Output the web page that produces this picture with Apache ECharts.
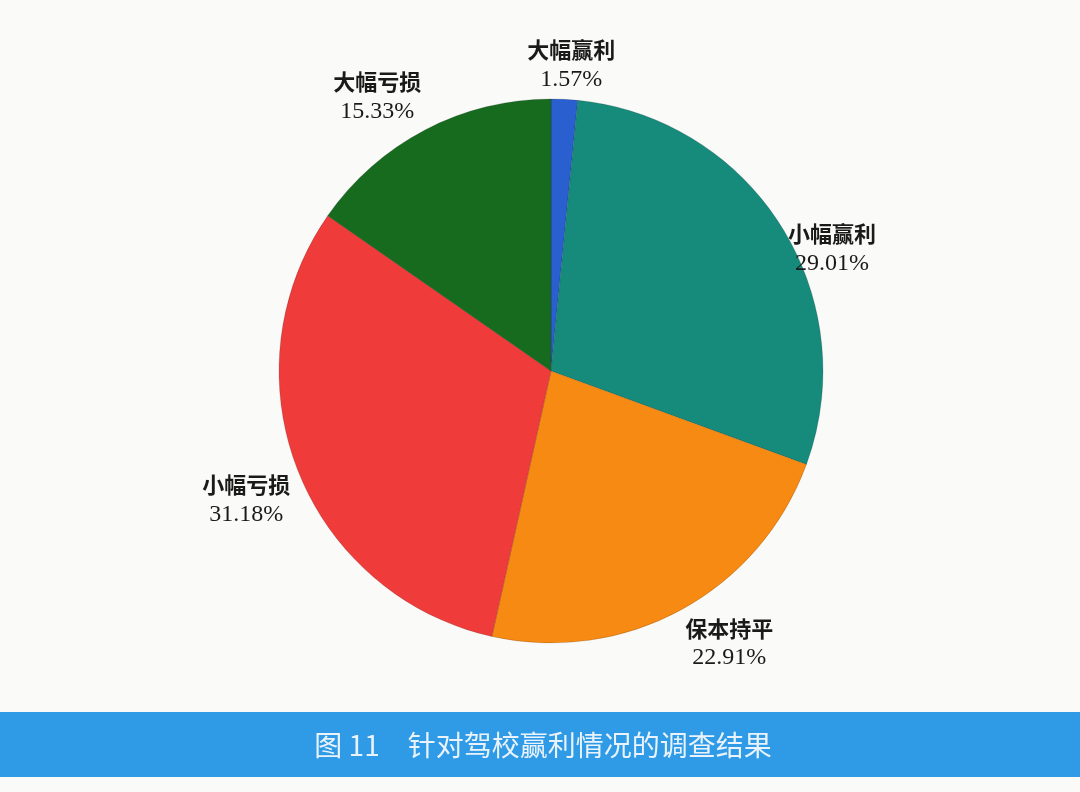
<!DOCTYPE html>
<html>
<head>
<meta charset="utf-8">
<script src="https://cdn.jsdelivr.net/npm/echarts@6/dist/echarts.min.js"></script>
<style>
  html, body { margin: 0; padding: 0; background: #fafaf8; }
  #main { width: 1080px; height: 792px; }
</style>
</head>
<body>
<div id="main"></div>
<script>
var categories = ['大幅赢利', '小幅赢利', '保本持平', '小幅亏损', '大幅亏损'];
var values = [1.57, 29.01, 22.91, 31.18, 15.33];
var colors = ['#2a5fcf', '#168a7b', '#f78a12', '#f03b3b', '#176b1f'];
var caption = '图 11\u3000针对驾校赢利情况的调查结果';

var center = [551, 371];
var radius = 272;
var labelGap = 8; // 标签离饼边缘的距离

var total = values.reduce(function (a, b) { return a + b; }, 0);

function clamp(v) { return Math.max(-1, Math.min(1, v)); }

var myChart = echarts.init(document.getElementById('main'));

var option = {
  backgroundColor: '#fafaf8',
  graphic: [
    {
      type: 'rect',
      shape: { x: 0, y: 712, width: 1080, height: 65 },
      style: { fill: '#2f9be6' }
    },
    {
      type: 'text',
      x: 543, y: 745,
      style: {
        text: caption,
        fill: '#eaf3fb',
        font: '28px "Noto Sans CJK SC"',
        align: 'center',
        verticalAlign: 'middle'
      }
    }
  ],
  series: [{
    type: 'pie',
    center: center,
    radius: radius,
    startAngle: 90,
    clockwise: true,
    avoidLabelOverlap: false,
    itemStyle: {
      borderColor: 'rgba(0,0,0,0.25)',
      borderWidth: 0.6
    },
    label: {
      show: true,
      position: 'outside',
      formatter: function (p) {
        return '{n|' + p.name + '}\n{v|' + p.value.toFixed(2) + '%}';
      },
      rich: {
        n: { fontFamily: 'Noto Sans CJK SC', fontSize: 22, fontWeight: 'bold', color: '#1a1a1a', lineHeight: 30, align: 'center' },
        v: { fontFamily: 'Liberation Serif', fontSize: 24, color: '#1a1a1a', lineHeight: 30, align: 'center' }
      }
    },
    labelLine: { show: false },
    // 标签挂在扇区中线外侧的点上：靠近正上方的放在点上面，其余放在点下面
    labelLayout: function (params) {
      var i = params.dataIndex;
      var before = 0;
      for (var k = 0; k < i; k++) before += values[k];
      var mid = (before + values[i] / 2) / total * Math.PI * 2;
      var s = Math.sin(mid), c = Math.cos(mid);
      var r = radius + labelGap;
      var hx = params.labelRect.width / 2;
      var hy = params.labelRect.height / 2;
      return {
        x: center[0] + r * s + hx * clamp(s * 3),
        y: center[1] - r * c - hy * clamp((c - 0.7) * 6),
        align: 'center',
        verticalAlign: 'middle'
      };
    },
    emphasis: { disabled: true },
    data: categories.map(function (c, i) {
      return { name: c, value: values[i], itemStyle: { color: colors[i] } };
    })
  }]
};

myChart.setOption(option);
</script>
</body>
</html>
